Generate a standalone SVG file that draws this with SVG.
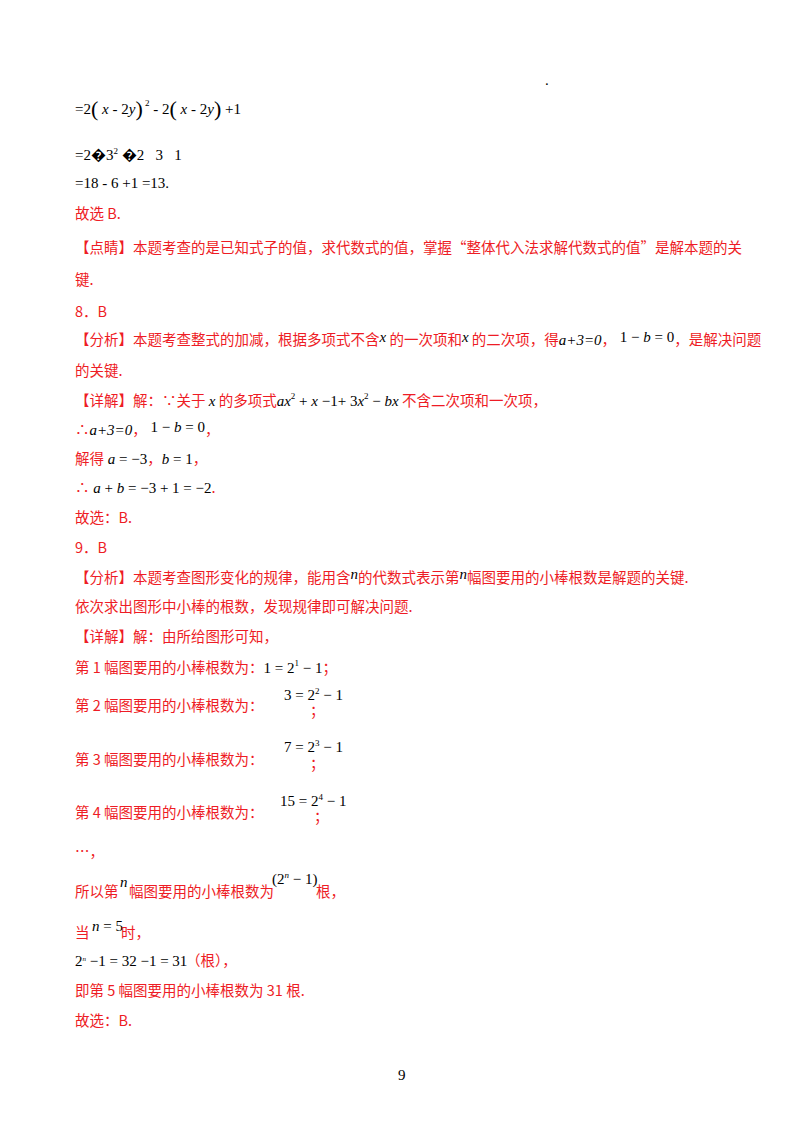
<svg xmlns="http://www.w3.org/2000/svg" width="800" height="1132" viewBox="0 0 800 1132">
<style>
.r{fill:#ee1c25;font-family:"Noto Sans CJK SC","Noto Sans",sans-serif;font-size:14.5px}
.m{fill:#000;font-family:"Liberation Serif",serif;font-size:15px}
.i{font-style:italic}
.s{font-size:9px}
.p{white-space:pre}
</style>
<rect width="800" height="1132" fill="#fff"/>
<text x="545" y="85" class="m" font-size="6">.</text>
<text x="75" y="114" class="m">=2<tspan font-size="22" dy="2">(</tspan><tspan dy="-2" class="i"> x</tspan> - 2<tspan class="i">y</tspan><tspan font-size="22" dy="2">)</tspan><tspan class="s" dy="-10"> 2</tspan><tspan dy="8"> - 2</tspan><tspan font-size="22" dy="2">(</tspan><tspan dy="-2" class="i"> x</tspan> - 2<tspan class="i">y</tspan><tspan font-size="22" dy="2">)</tspan><tspan dy="-2"> +1</tspan></text>
<text x="75" y="160" class="m p">=2�3<tspan class="s" dy="-6">2</tspan><tspan dy="6"> �2   3   1</tspan></text>
<text x="75" y="188" class="m">=18 - 6 +1 =13.</text>
<text x="75" y="219" class="r">故选 B.</text>
<text x="75" y="253" class="r">【点睛】本题考查的是已知式子的值，求代数式的值，掌握“整体代入法求解代数式的值”是解本题的关</text>
<text x="75" y="285" class="r">键.</text>
<text x="75" y="317" class="r">8．B</text>
<text x="75" y="345" class="r">【分析】本题考查整式的加减，根据多项式不含<tspan class="m i" dy="-3">x</tspan><tspan dy="3"> 的一次项和</tspan><tspan class="m i" dy="-3">x</tspan><tspan dy="3"> 的二次项，得</tspan><tspan class="m i" font-size="6">a+3=0</tspan>，<tspan class="m" dy="-3"> 1 − <tspan class="i">b</tspan> = 0</tspan><tspan dy="3">，是解决问题</tspan></text>
<text x="75" y="376" class="r">的关键.</text>
<text x="75" y="406" class="r">【详解】解：∵关于 <tspan class="m i">x</tspan> 的多项式<tspan class="m i">ax</tspan><tspan class="m s" dy="-7">2</tspan><tspan class="m" dy="7"> + <tspan class="i">x</tspan> −1+ 3<tspan class="i">x</tspan></tspan><tspan class="m s" dy="-7">2</tspan><tspan class="m" dy="7"> − <tspan class="i">bx</tspan></tspan> 不含二次项和一次项，</text>
<text x="75" y="435" class="r">∴<tspan class="m i" font-size="6">a+3=0</tspan>，<tspan class="m" dy="-3"> 1 − <tspan class="i">b</tspan> = 0</tspan><tspan dy="3">，</tspan></text>
<text x="75" y="464" class="r">解得<tspan class="m"> <tspan class="i">a</tspan> = −3</tspan>，<tspan class="m"><tspan class="i">b</tspan> = 1</tspan>，</text>
<text x="75" y="493" class="r">∴<tspan class="m"> <tspan class="i">a</tspan> + <tspan class="i">b</tspan> = −3 + 1 = −2</tspan>.</text>
<text x="75" y="523" class="r">故选：B.</text>
<text x="75" y="553" class="r">9．B</text>
<text x="75" y="583" class="r">【分析】本题考查图形变化的规律，能用含<tspan class="m i" dy="-4">n</tspan><tspan dy="4">的代数式表示第</tspan><tspan class="m i" dy="-4">n</tspan><tspan dy="4">幅图要用的小棒根数是解题的关键.</tspan></text>
<text x="75" y="612" class="r">依次求出图形中小棒的根数，发现规律即可解决问题.</text>
<text x="75" y="642" class="r">【详解】解：由所给图形可知，</text>
<text x="75" y="673" class="r">第 1 幅图要用的小棒根数为：<tspan class="m">1 = 2<tspan class="s" dy="-7">1</tspan><tspan dy="7"> − 1</tspan></tspan>；</text>
<text x="75" y="711" class="r">第 2 幅图要用的小棒根数为：</text>
<text x="284" y="700" class="m" font-size="13">3 = 2<tspan class="s" dy="-6">2</tspan><tspan dy="6"> − 1</tspan></text>
<text x="310" y="716" class="r">；</text>
<text x="75" y="765" class="r">第 3 幅图要用的小棒根数为：</text>
<text x="284" y="752" class="m" font-size="13">7 = 2<tspan class="s" dy="-6">3</tspan><tspan dy="6"> − 1</tspan></text>
<text x="310" y="769" class="r">；</text>
<text x="75" y="818" class="r">第 4 幅图要用的小棒根数为：</text>
<text x="280" y="806" class="m" font-size="13">15 = 2<tspan class="s" dy="-6">4</tspan><tspan dy="6"> − 1</tspan></text>
<text x="314" y="822" class="r">；</text>
<text x="75" y="857" class="r">…，</text>
<text x="75" y="897" class="r">所以第</text>
<text x="120" y="887" class="m i">n</text>
<text x="129" y="897" class="r">幅图要用的小棒根数为</text>
<text x="272" y="884" class="m">(2<tspan class="s i" dy="-6">n</tspan><tspan dy="6"> − 1)</tspan></text>
<text x="316" y="897" class="r">根，</text>
<text x="75" y="938" class="r">当</text>
<text x="92" y="931" class="m"><tspan class="i">n</tspan> = 5</text>
<text x="121" y="938" class="r">时，</text>
<text x="75" y="966" class="m" font-size="10.5">2<tspan font-size="7" class="i" dy="-5">n</tspan><tspan dy="5"> −1 = 32 −1 = 31</tspan></text>
<text x="186" y="966" class="r">（根），</text>
<text x="75" y="996" class="r">即第 5 幅图要用的小棒根数为 31 根.</text>
<text x="75" y="1026" class="r">故选：B.</text>
<text x="398" y="1080" class="m" font-size="13">9</text>
</svg>
